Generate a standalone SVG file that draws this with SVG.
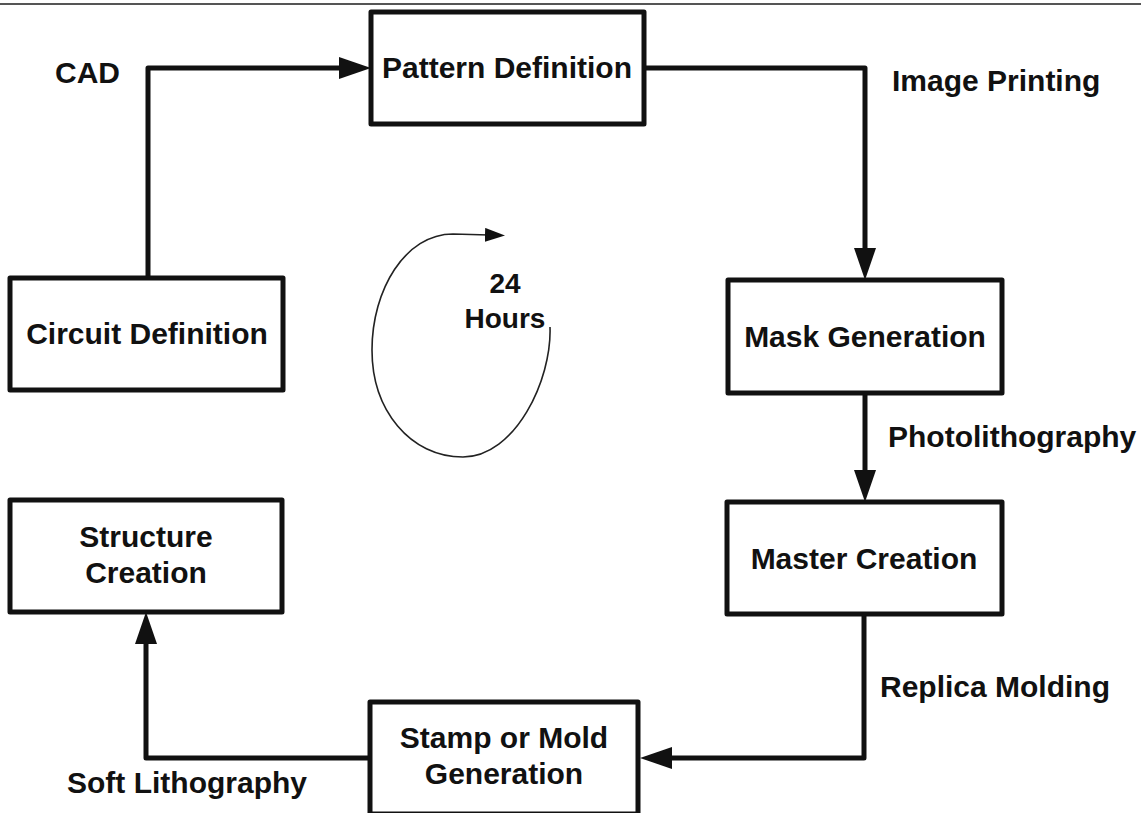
<svg xmlns="http://www.w3.org/2000/svg" width="1141" height="813" viewBox="0 0 1141 813">
  <style>
    .box { fill: #ffffff; stroke: #111111; stroke-width: 5; stroke-linejoin: round; }
    .node-text { font-family: "Liberation Sans", Arial, sans-serif; font-weight: bold; font-size: 30px; fill: #111111; text-anchor: middle; }
    .label { font-family: "Liberation Sans", Arial, sans-serif; font-weight: bold; font-size: 30px; fill: #111111; }
    .conn { fill: none; stroke: #111111; stroke-width: 5; stroke-linejoin: round; }
    .loop { fill: none; stroke: #222222; stroke-width: 1.6; }
  </style>
  <defs>
    <marker id="arrow" markerUnits="userSpaceOnUse" markerWidth="32" markerHeight="22" refX="12" refY="11" orient="auto">
      <path d="M0,0 L32,11 L0,22 Z" fill="#111111"/>
    </marker>
    <marker id="arrow-small" markerUnits="userSpaceOnUse" markerWidth="20" markerHeight="14" refX="4" refY="7" orient="auto">
      <path d="M0,0 L20,7 L0,14 Z" fill="#111111"/>
    </marker>
  </defs>

  <rect width="1141" height="813" fill="#ffffff"/>
  <!-- page rule along the top -->
  <line x1="0" y1="4" x2="1141" y2="4" stroke="#555555" stroke-width="2"/>

  <!-- connectors -->
  <g id="connectors">
    <path class="conn" d="M148 278 V68 H351" marker-end="url(#arrow)"/>
    <path class="conn" d="M644 68 H865 V260" marker-end="url(#arrow)"/>
    <path class="conn" d="M865 393 V482" marker-end="url(#arrow)"/>
    <path class="conn" d="M864 614 V758 H660" marker-end="url(#arrow)"/>
    <path class="conn" d="M370 758 H146 V632" marker-end="url(#arrow)"/>
  </g>

  <!-- connector labels -->
  <g id="labels">
    <text class="label" x="55" y="83">CAD</text>
    <text class="label" x="892" y="91">Image Printing</text>
    <text class="label" x="888" y="447">Photolithography</text>
    <text class="label" x="880" y="697">Replica Molding</text>
    <text class="label" x="67" y="793">Soft Lithography</text>
  </g>

  <!-- nodes -->
  <g id="pattern-definition">
    <rect class="box" x="371" y="12" width="273" height="112"/>
    <text class="node-text" x="507" y="78">Pattern Definition</text>
  </g>
  <g id="circuit-definition">
    <rect class="box" x="10" y="278" width="273" height="112"/>
    <text class="node-text" x="147" y="344">Circuit Definition</text>
  </g>
  <g id="mask-generation">
    <rect class="box" x="728" y="280" width="274" height="113"/>
    <text class="node-text" x="865" y="347">Mask Generation</text>
  </g>
  <g id="master-creation">
    <rect class="box" x="727" y="502" width="275" height="112"/>
    <text class="node-text" x="864" y="569">Master Creation</text>
  </g>
  <g id="structure-creation">
    <rect class="box" x="10" y="500" width="272" height="112"/>
    <text class="node-text" x="146" y="547">Structure</text>
    <text class="node-text" x="146" y="583">Creation</text>
  </g>
  <g id="stamp-generation">
    <rect class="box" x="370" y="702" width="268" height="112"/>
    <text class="node-text" x="504" y="748">Stamp or Mold</text>
    <text class="node-text" x="504" y="784">Generation</text>
  </g>

  <!-- 24-hour cycle loop -->
  <g id="cycle">
    <path class="loop" d="M550 327 C552 380 515 457 463 457 C410 457 372 410 372 350 C372 290 405 234 453 234 L489 235" marker-end="url(#arrow-small)"/>
    <text class="node-text" x="505" y="293" style="font-size:28px">24</text>
    <text class="node-text" x="505" y="328" style="font-size:28px">Hours</text>
  </g>
</svg>
